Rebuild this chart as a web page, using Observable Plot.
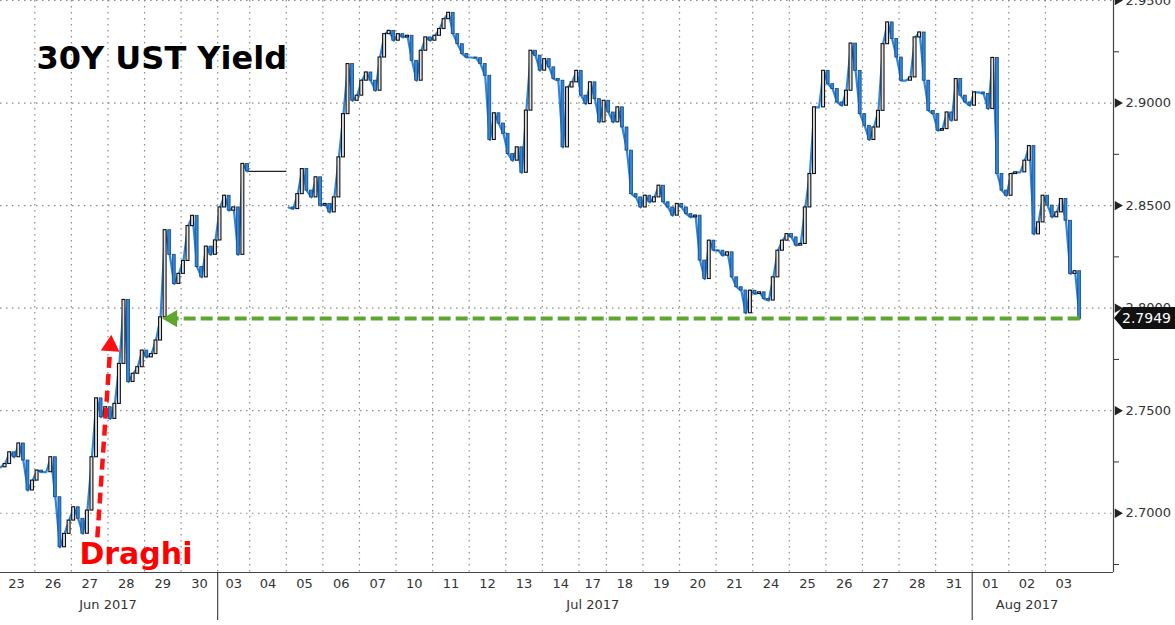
<!DOCTYPE html>
<html><head><meta charset="utf-8">
<script src="https://cdn.jsdelivr.net/npm/d3@7"></script>
<script src="https://cdn.jsdelivr.net/npm/@observablehq/plot@0.6"></script>
<style>
body{margin:0;background:#fff;}
#chart svg{display:block;overflow:visible;}
</style>
</head><body><div id="chart"></div>
<script>
// ---------- data ----------
const title = "30Y UST Yield";
const draghiLabel = "Draghi";
const dayLabels = ["23","26","27","28","29","30","03","04","05","06","07","10","11","12","13","14","17","18","19","20","21","24","25","26","27","28","31","01","02","03"];
const dayMonths = ["Jun 2017","Jun 2017","Jun 2017","Jun 2017","Jun 2017","Jun 2017",
  "Jul 2017","Jul 2017","Jul 2017","Jul 2017","Jul 2017","Jul 2017","Jul 2017","Jul 2017","Jul 2017","Jul 2017","Jul 2017","Jul 2017","Jul 2017","Jul 2017","Jul 2017","Jul 2017","Jul 2017","Jul 2017","Jul 2017","Jul 2017","Jul 2017",
  "Aug 2017","Aug 2017","Aug 2017"];

// intraday closes per session (30Y yield, %)
const jun23 = [2.7224, 2.7240, 2.7297, 2.7273, 2.7340, 2.7257, 2.7111, 2.7159];
const jun26 = [2.7208, 2.7200, 2.7200, 2.7273, 2.7078, 2.6834, 2.6899, 2.6964];
const jun27 = [2.7029, 2.6973, 2.6900, 2.7013, 2.7273, 2.7560, 2.7468, 2.7517];
const jun28 = [2.7460, 2.7533, 2.7728, 2.8040, 2.7640, 2.7680, 2.7712, 2.7793];
const jun29 = [2.7760, 2.7776, 2.7842, 2.7955, 2.8380, 2.8260, 2.8118, 2.8167];
const jun30 = [2.8230, 2.8400, 2.8450, 2.8200, 2.8150, 2.8300, 2.8260, 2.8330];
const jul03 = [2.8491, 2.8548, 2.8475, 2.8491, 2.8260, 2.8703, 2.8667];
const jul04 = [null, null, null, null, null, null, null, null];
const jul05 = [2.8491, 2.8483, 2.8556, 2.8678, 2.8573, 2.8540, 2.8638, 2.8500];
const jul06 = [2.8508, 2.8467, 2.8540, 2.8735, 2.8946, 2.9190, 2.9011, 2.9036];
const jul07 = [2.9109, 2.9149, 2.9109, 2.9060, 2.9222, 2.9336, 2.9352, 2.9304];
const jul10 = [2.9336, 2.9320, 2.9328, 2.9206, 2.9109, 2.9255, 2.9320, 2.9304];
const jul11 = [2.9328, 2.9361, 2.9409, 2.9440, 2.9336, 2.9287, 2.9239, 2.9222];
const jul12 = [2.9222, 2.9219, 2.9190, 2.9133, 2.8820, 2.8950, 2.8900, 2.8850];
const jul13 = [2.8751, 2.8719, 2.8784, 2.8660, 2.8963, 2.9255, 2.9231, 2.9158];
const jul14 = [2.9214, 2.9174, 2.9117, 2.9109, 2.8784, 2.9076, 2.9101, 2.9157];
const jul17 = [2.9036, 2.8995, 2.9101, 2.9019, 2.8906, 2.9011];
const jul18 = [2.8954, 2.8906, 2.8979, 2.8881, 2.8768, 2.8556, 2.8540, 2.8491];
const jul19 = [2.8548, 2.8516, 2.8540, 2.8597, 2.8516, 2.8491, 2.8451, 2.8508];
const jul20 = [2.8491, 2.8459, 2.8443, 2.8451, 2.8232, 2.8142, 2.8329, 2.8281];
const jul21 = [2.8280, 2.8256, 2.8272, 2.8150, 2.8102, 2.8086, 2.7975, 2.8085];
const jul24 = [2.8069, 2.8077, 2.8045, 2.8037, 2.8150, 2.8280, 2.8329, 2.8361];
const jul25 = [2.8345, 2.8305, 2.8313, 2.8491, 2.8654, 2.8979, 2.8979, 2.9157];
const jul26 = [2.9092, 2.9068, 2.9003, 2.8987, 2.9060, 2.9290, 2.9157, 2.8946];
const jul27 = [2.8889, 2.8820, 2.8881, 2.8962, 2.9287, 2.9393, 2.9312, 2.9222];
const jul28 = [2.9109, 2.9109, 2.9125, 2.9320, 2.9344, 2.9109, 2.8962, 2.8946];
const jul31 = [2.8865, 2.8873, 2.8954, 2.8914, 2.9117, 2.9036, 2.9003, 2.8987];
const aug01 = [2.9052, 2.9052, 2.9044, 2.8971, 2.9220, 2.8654, 2.8573, 2.8548];
const aug02 = [2.8654, 2.8662, 2.8662, 2.8719, 2.8790, 2.8360, 2.8418, 2.8548];
const aug03 = [2.8500, 2.8443, 2.8467, 2.8532, 2.8426, 2.8167, 2.8180, 2.7949];

const dayValues = [jun23, jun26, jun27, jun28, jun29, jun30, jul03, jul04, jul05, jul06, jul07,
  jul10, jul11, jul12, jul13, jul14, jul17, jul18, jul19, jul20, jul21, jul24, jul25, jul26,
  jul27, jul28, jul31, aug01, aug02, aug03];

const yTicks = [2.70, 2.75, 2.80, 2.85, 2.90, 2.95];
const yMinorTicks = [2.675, 2.725, 2.775, 2.825, 2.875, 2.925];
const lastValue = 2.7949;

// annotation anchors: [day index, fraction of the day, yield]
const draghiArrowFrom = [2, 0.71, 2.6882];
const draghiArrowTo = [3, 0.07, 2.7817];
const draghiTextAt = [2, 0.22, 2.6800];
const levelArrowTo = [4, 0.68];

// ---------- build ----------
const bars = [];
const dayStart = [];
let n = 0;
dayValues.forEach((vals, d) => {
  dayStart.push(n);
  vals.forEach(v => { bars.push({i: n, day: d, close: v}); n++; });
});
dayStart.push(n);
bars.forEach((b, k) => {
  const prev = k > 0 ? bars[k - 1].close : null;
  b.open = (prev == null) ? b.close : prev;
});
const valid = bars.filter(b => b.close != null);
const ups = valid.filter(b => b.close >= b.open);
const downs = valid.filter(b => b.close < b.open);

// flat "no trade" carry line for empty sessions
const carry = [];
dayValues.forEach((vals, d) => {
  if (vals.every(v => v == null)) {
    const prevBar = valid.filter(b => b.i < dayStart[d]).pop();
    carry.push({x1: prevBar.i + 0.5, x2: dayStart[d + 1], y: prevBar.close});
  }
});

const dayCenters = dayLabels.map((_, d) => (dayStart[d] + dayStart[d + 1]) / 2);
const dayBounds = dayStart.slice(1, -1);
const labelByCenter = new Map(dayCenters.map((c, d) => [c, dayLabels[d]]));
const months = Array.from(new Set(dayMonths));
const monthCenters = months.map(m => d3.mean(dayCenters.filter((c, d) => dayMonths[d] === m)));
const monthByCenter = new Map(monthCenters.map((c, k) => [c, months[k]]));
const monthBounds = dayBounds.filter((b, k) => dayMonths[k] !== dayMonths[k + 1]);

const pos = ([d, f]) => dayStart[d] + f * (dayStart[d + 1] - dayStart[d]);
const lastBar = valid[valid.length - 1];
const xDomain = [0.5, 243.9];
const yDomain = [2.6711, 2.9500];
const xMax = xDomain[1];

const blue = "#2f86dd";
const green = "#5ea62e";
const font = "DejaVu Sans";

const tag = (index, scales, values, dims) => {
  const y = scales.y(lastValue);
  const x = dims.width - dims.marginRight;
  const p = document.createElementNS("http://www.w3.org/2000/svg", "path");
  p.setAttribute("d", `M${x + 1},${y} L${x + 10},${y - 11} H${dims.width} V${y + 11} H${x + 10} Z`);
  p.setAttribute("fill", "#111");
  return p;
};

const chart = Plot.plot({
  width: 1175,
  height: 625,
  marginLeft: 0,
  marginRight: 62,
  marginTop: 0,
  marginBottom: 53,
  style: {fontFamily: font, fontSize: "13px", color: "#333", background: "#fff"},
  x: {domain: xDomain, axis: null},
  y: {domain: yDomain, axis: null},
  marks: [
    // grid
    Plot.ruleY(yTicks, {stroke: "#8a8a8a", strokeDasharray: "1.5,4.5", strokeWidth: 1.2}),
    Plot.ruleX(dayBounds, {stroke: "#8a8a8a", strokeDasharray: "1.5,4.5", strokeWidth: 1.2}),
    // data
    Plot.link(carry, {x1: "x1", x2: "x2", y1: "y", y2: "y", stroke: "#222", strokeWidth: 1.2}),
    Plot.line(bars, {x: d => d.i + 0.5, y: "close", stroke: blue, strokeWidth: 2.2, clip: true}),
    Plot.rect(downs, {x1: d => d.i + 0.18, x2: d => d.i + 0.82, y1: "open", y2: "close", fill: blue, stroke: "#15467e", strokeWidth: 0.8, clip: true}),
    Plot.rect(ups, {x1: d => d.i + 0.18, x2: d => d.i + 0.82, y1: "open", y2: "close", fill: "#e0e0e0", stroke: "#111", strokeWidth: 1.1, clip: true}),
    // level arrow
    Plot.link([lastValue], {x1: lastBar.i + 0.5, x2: pos(levelArrowTo) + 1.6, y1: d => d, y2: d => d, stroke: green, strokeWidth: 4, strokeDasharray: "12,5"}),
    Plot.dot([lastValue], {x: pos(levelArrowTo) + 0.6, y: d => d, symbol: "triangle", rotate: -90, r: 5.5, fill: green, stroke: green}),
    // Draghi arrow
    Plot.link([0], {x1: pos(draghiArrowFrom), y1: draghiArrowFrom[2], x2: pos(draghiArrowTo) - 0.15, y2: draghiArrowTo[2] - 0.004, stroke: "#ff1010", strokeWidth: 4.5, strokeDasharray: "11,6"}),
    Plot.dot([0], {x: pos(draghiArrowTo), y: draghiArrowTo[2], symbol: "triangle", rotate: 4, r: 6, fill: "#ff1010", stroke: "#ff1010"}),
    Plot.text([draghiLabel], {x: pos(draghiTextAt), y: draghiTextAt[2], text: d => d, textAnchor: "start", fontSize: 30, fontWeight: "bold", fill: "#ff0000", fontFamily: font}),
    // title
    Plot.text([title], {frameAnchor: "top-left", dx: 36, dy: 46, text: d => d, textAnchor: "start", fontSize: 32, fontWeight: "bold", fill: "#000", fontFamily: font}),
    // frame
    Plot.ruleX([xMax], {stroke: "#444", strokeWidth: 1.2}),
    Plot.ruleY([yDomain[0]], {stroke: "#444", strokeWidth: 1.2}),
    // axes
    Plot.axisY(yTicks, {anchor: "right", tickSize: 0, tickPadding: 12, tickFormat: d3.format(".4f"), fill: "#333"}),
    Plot.axisY(yMinorTicks, {anchor: "right", tickSize: 5, tickFormat: () => "", stroke: "#333"}),
    Plot.dot(yTicks, {x: xMax, y: d => d, symbol: "triangle", rotate: 90, r: 3.5, fill: "#222", dx: 4}),
    Plot.axisX(dayCenters, {anchor: "bottom", tickSize: 0, tickPadding: 6, tickFormat: c => labelByCenter.get(c), fill: "#333"}),
    Plot.axisX(monthCenters, {anchor: "bottom", tickSize: 0, tickPadding: 27, tickFormat: c => monthByCenter.get(c), fill: "#333"}),
    Plot.axisX(monthBounds, {anchor: "bottom", tickSize: 48, tickFormat: () => "", stroke: "#222"}),
    // last value tag
    tag,
    Plot.text([lastValue], {x: xMax, y: d => d, text: d => d3.format(".4f")(d), dx: 33, fill: "#fff", fontSize: 14, textAnchor: "middle"})
  ]
});
document.getElementById("chart").appendChild(chart);
</script>
</body></html>
